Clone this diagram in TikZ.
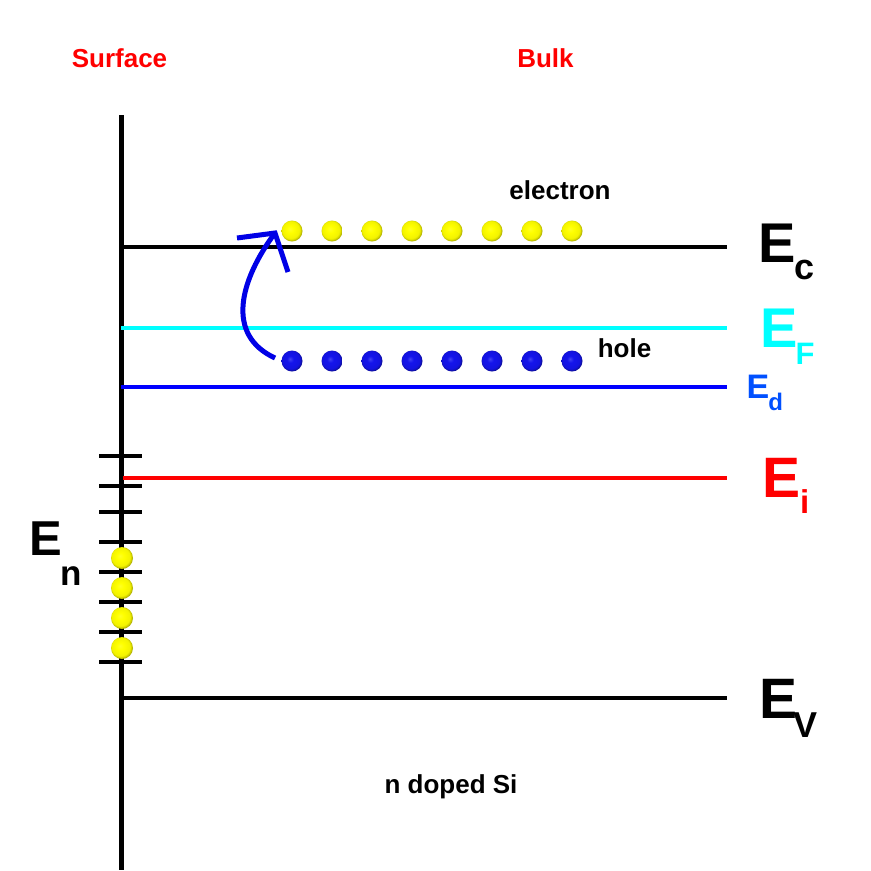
\documentclass[tikz,border=0pt]{standalone}
\usepackage{fontspec}
\setmainfont{Liberation Sans}
\pgfdeclareradialshading{yball}{\pgfpoint{-5bp}{5bp}}{color(0bp)=(yellow!85!white); color(8bp)=(yellow); color(21bp)=(yellow!95!black); color(31bp)=(yellow!45!black); color(50bp)=(yellow!45!black)}
\definecolor{bb}{RGB}{20,20,235}
\pgfdeclareradialshading{bball}{\pgfpoint{-5bp}{5bp}}{color(0bp)=(bb!80!white); color(8bp)=(bb); color(21bp)=(bb!95!black); color(31bp)=(bb!40!black); color(50bp)=(bb!40!black)}
\definecolor{edblue}{RGB}{0,80,255}
\definecolor{arrblue}{RGB}{0,0,230}
\definecolor{cyanf}{RGB}{0,255,255}
\begin{document}
\begin{tikzpicture}[x=1pt,y=-1pt,
  lvl/.style={line width=4.8pt},
  entick/.style={line width=4.2pt},
  lab/.style={inner sep=0pt, anchor=base, font=\bfseries\fontsize{26}{26}\selectfont},
  elab/.style={inner sep=0pt, anchor=base west, font=\bfseries},
  yb/.style={circle, inner sep=0pt, minimum size=21pt, shade, shading=yball},
  hb/.style={circle, inner sep=0pt, minimum size=21pt, shade, shading=bball}]
\useasboundingbox (0,0) rectangle (871,871);
\fill[white] (0,0) rectangle (871,871);
% axis
\coordinate (top) at (121,115);
\coordinate (bot) at (121,870);
\draw[line width=5pt] (top) -- (bot);
% levels
\coordinate (ecL) at (121,247); \coordinate (ecR) at (727,247);
\coordinate (efL) at (121,328); \coordinate (efR) at (727,328);
\coordinate (edL) at (121,387); \coordinate (edR) at (727,387);
\coordinate (eiL) at (123,478); \coordinate (eiR) at (727,478);
\coordinate (evL) at (121,698); \coordinate (evR) at (727,698);
\draw[lvl, black] (ecL) -- (ecR);
\draw[lvl, cyanf] (efL) -- (efR);
\draw[lvl, blue] (edL) -- (edR);
\draw[lvl, red] (eiL) -- (eiR);
\draw[lvl, black] (evL) -- (evR);
% surface states ticks
\foreach \y [count=\i] in {456,486,512,542,572,602,632,662}{
  \coordinate (tl\i) at (99,\y); \coordinate (tr\i) at (142,\y);
  \draw[entick] (tl\i) -- (tr\i);
}
\foreach \y [count=\i] in {558,588,618,648}{
  \node[yb, minimum size=22pt] (sb\i) at (122,\y) {};
}
% electrons and holes
\foreach \k in {0,...,7}{
  \node[yb] (e\k) at ({292+40*\k},231) {};
  \node[hb] (h\k) at ({292+40*\k},361) {};
}
% arrow
\coordinate (as) at (275,358);
\coordinate (at) at (275,233);
\coordinate (aL) at (237,238);
\coordinate (aR) at (288,272);
\draw[arrblue, line width=5pt] (as) .. controls (225,335) and (240,280) .. (at);
\draw[arrblue, line width=5pt, line join=miter] (aL) -- (at) -- (aR);
% texts
\node[lab, red] (surf) at (119.5,67) {Surface};
\node[lab, red] (bulk) at (545.5,67) {Bulk};
\node[lab] (elec) at (560,199) {electron};
\node[lab] (hole) at (624.5,357) {hole};
\node[lab] (nsi) at (451,793) {n doped Si};
% energy labels
\node[elab] (Ec) at (758,262) {\fontsize{56}{56}\selectfont E\kern-1pt\raisebox{-17pt}{\fontsize{36}{36}\selectfont c}};
\node[elab, cyanf] (Ef) at (760,347) {\fontsize{56}{56}\selectfont E\kern-2pt\raisebox{-17pt}{\fontsize{31}{31}\selectfont F}};
\node[elab, edblue] (Ed) at (746.5,398) {\fontsize{34}{34}\selectfont E\kern-1pt\raisebox{-12pt}{\fontsize{24}{24}\selectfont d}};
\node[elab, red] (Ei) at (762,497) {\fontsize{57}{57}\selectfont E\kern0pt\raisebox{-16pt}{\fontsize{33}{33}\selectfont i}};
\node[elab] (Ev) at (759,718) {\fontsize{57}{57}\selectfont E\kern-4pt\raisebox{-19pt}{\fontsize{36}{36}\selectfont V}};
\node[elab] (En) at (29.5,555) {\fontsize{49}{49}\selectfont E\kern-1.5pt\raisebox{-30pt}{\fontsize{35}{35}\selectfont n}};
\end{tikzpicture}
\end{document}
